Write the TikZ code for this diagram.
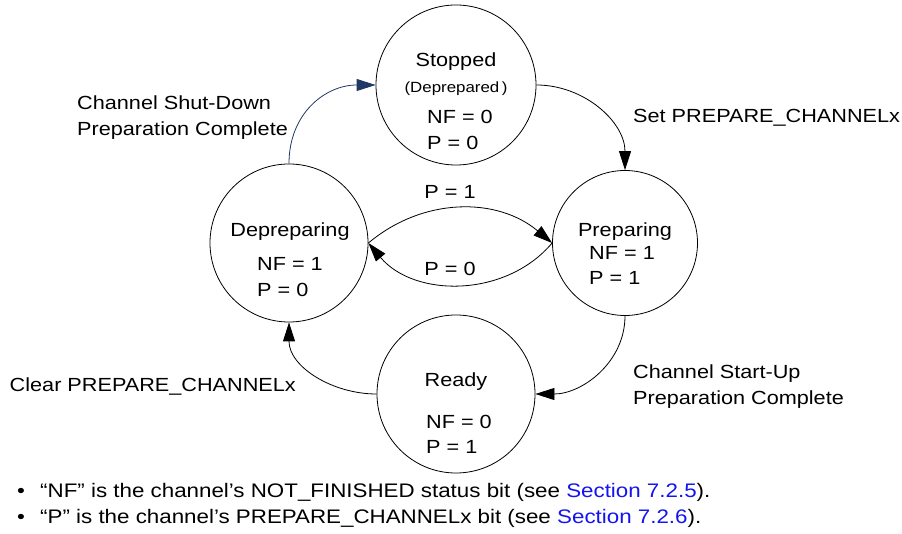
\documentclass[tikz,border=0pt]{standalone}
\usepackage{fontspec}
\setmainfont{Liberation Sans}[FakeStretch=1.14]
\usepackage{xcolor}
\usetikzlibrary{arrows.meta, positioning}

\definecolor{shutblue}{RGB}{31,56,100}
\definecolor{linkblue}{RGB}{20,20,240}

\begin{document}
\begin{tikzpicture}[
    x=1pt, y=1pt,
    font=\fontsize{19}{26}\selectfont,
    >={Triangle[length=19pt, width=12pt]},
    % Styles
    statecircle/.style={
      draw=black,
      line width=0.8pt,
      circle,
      inner sep=0pt
    },
    statetext/.style={
      anchor=base,
      inner sep=0pt
    },
    bittext/.style={
      anchor=base west,
      inner sep=0pt
    },
    edgelabel/.style={
      inner sep=0pt,
      align=left
    },
    arrow/.style={
      ->,
      line width=0.8pt,
      draw=black
    }
  ]

    \useasboundingbox (0,0) rectangle (902,533);

    % States
    \node (stopped) [statecircle, minimum size=160pt] at (456, 448) {};
    \node (depreparing) [statecircle, minimum size=158pt] at (289, 290) {};
    \node (preparing) [statecircle, minimum size=145pt] at (625, 290) {};
    \node (ready) [statecircle, minimum size=158pt] at (456, 139) {};

    % State texts
    \node (stoppedname) [statetext] at (456, 466) {Stopped};
    \node (stoppedsub) [statetext, font=\fontsize{14.8}{20}\selectfont] at (456, 440) {(Deprepared\,)};
    \node (stoppednf) [bittext] at (427, 409) {NF = 0};
    \node (stoppedp) [bittext] at (427, 383) {P = 0};

    \node (deprepname) [statetext] at (290, 296) {Depreparing};
    \node (deprepnf) [bittext] at (257, 262) {NF = 1};
    \node (deprepp) [bittext] at (257, 236) {P = 0};

    \node (prepname) [statetext] at (625, 296) {Preparing};
    \node (prepnf) [bittext] at (589, 273) {NF = 1};
    \node (prepp) [bittext] at (589, 248) {P = 1};

    \node (readyname) [statetext] at (456, 146) {Ready};
    \node (readynf) [bittext] at (426, 105) {NF = 0};
    \node (readyp) [bittext] at (426, 80) {P = 1};

    % Transitions
    \draw [arrow] (stopped.east) to[out=0, in=90] (preparing.north);
    \draw [arrow] (preparing.south) to[out=-90, in=0] (ready.east);
    \draw [arrow] (ready.west) to[out=180, in=-90] (depreparing.south);
    \draw [arrow, draw=shutblue, -{Triangle[length=19pt, width=12pt, fill=shutblue]}] (depreparing.north) to[out=90, in=180, looseness=1.1] (stopped.west);
    \draw [arrow] (depreparing.east) to[bend left=40] (preparing.west);
    \draw [arrow] (preparing.west) to[bend left=50] (depreparing.east);

    % Transition labels
    \node (setlabel) [anchor=base west, inner sep=0pt] at (633, 410) {Set PREPARE\_CHANNELx};
    \node (startlabel) [edgelabel, anchor=west] at (633, 146) {Channel Start-Up\\Preparation Complete};
    \node (clearlabel) [anchor=base east, inner sep=0pt] at (296, 141) {Clear PREPARE\_CHANNELx};
    \node (shutlabel) [edgelabel, anchor=west] at (77, 415) {Channel Shut-Down\\Preparation Complete};
    \node (ponelabel) [statetext] at (450, 334) {P = 1};
    \node (pzerolabel) [statetext] at (450, 257) {P = 0};

    % Notes
    \node (notenf) [bittext, font=\fontsize{19.6}{26}\selectfont] at (17, 36) {\makebox[23pt][l]{\textbullet}“NF” is the channel’s NOT\_FINISHED status bit (see \textcolor{linkblue}{Section 7.2.5}).};
    \node (notep) [bittext, font=\fontsize{19.6}{26}\selectfont] at (17, 10) {\makebox[23pt][l]{\textbullet}“P” is the channel’s PREPARE\_CHANNELx bit (see \textcolor{linkblue}{Section 7.2.6}).};

  \end{tikzpicture}
\end{document}
